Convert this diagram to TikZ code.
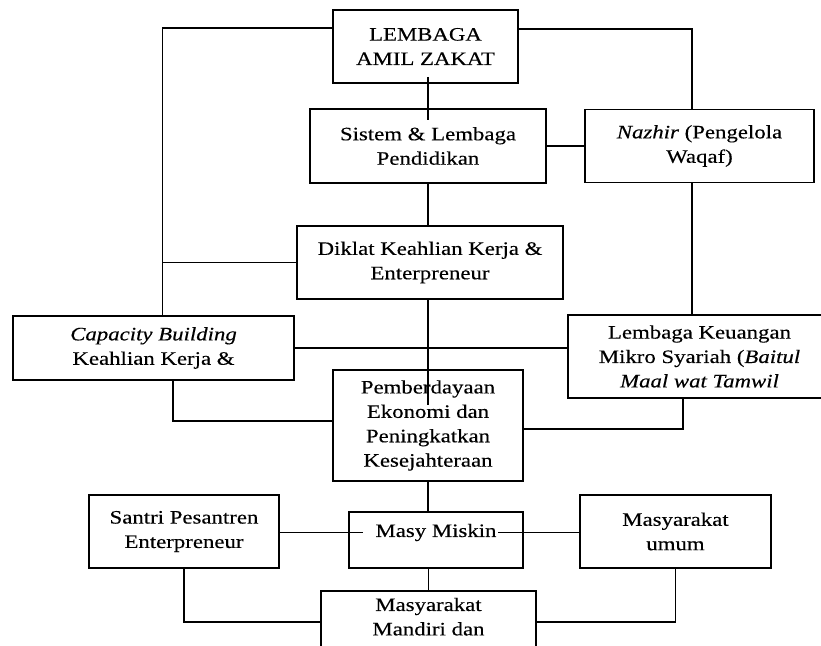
\documentclass[tikz,border=0pt]{standalone}
\usepackage{fontspec}
\setmainfont{Liberation Serif}[FakeStretch=1.2, FakeBold=0.3]
\usepackage{tikz}
\usetikzlibrary{positioning}
\tikzstyle{flow edge}=[line width=0.7pt]
\tikzstyle{flow box}=[draw, line width=0.7pt, align=center, inner sep=3pt, outer sep=0pt, font=\fontsize{9.5}{12.2}\selectfont]
\newcommand{\flownode}[3][]{
  \node [flow box, #1] (#2) {#3}
}

\begin{document}
\begin{tikzpicture}
        \useasboundingbox (0,0) rectangle (410.5pt,-323pt);
        \flownode[at={(212.75pt,-23.25pt)}, minimum width=92.5pt, minimum height=36.5pt]{zakat}{LEMBAGA\\AMIL ZAKAT};
        \flownode[below=13pt of zakat, xshift=1.25pt, minimum width=118pt, minimum height=37pt]{sistem}{Sistem \& Lembaga\\Pendidikan};
        \flownode[right=19.5pt of sistem, minimum width=114.5pt, minimum height=36.5pt]{nazhir}{\textit{Nazhir} (Pengelola\\Waqaf)};
        \flownode[below=21.5pt of sistem, xshift=1pt, minimum width=133pt, minimum height=36.5pt]{diklat}{Diklat Keahlian Kerja \&\\Enterpreneur};
                \flownode[below left=8.5pt and 1.5pt of diklat, minimum width=140.5pt, minimum height=32pt]{capacity}{\textit{Capacity Building}\\Keahlian Kerja \&};
                \flownode[below right=8pt and 2.5pt of diklat, minimum width=131.5pt, minimum height=41.5pt]{lkms}{Lembaga Keuangan\\Mikro Syariah (\textit{Baitul}\\\textit{Maal wat Tamwil}};
        \flownode[below=35.5pt of diklat, xshift=-1pt, minimum width=95pt, minimum height=55.5pt]{berdaya}{Pemberdayaan\\Ekonomi dan\\Peningkatkan\\Kesejahteraan};
        \flownode[below=15.5pt of berdaya, xshift=4pt, minimum width=87pt, inner ysep=0pt]{miskin}{\raisebox{0pt}[12.5pt][15.5pt]{Masy Miskin}};
                \flownode[left=35pt of miskin, yshift=4.25pt, minimum width=95pt, minimum height=36.5pt]{santri}{Santri Pesantren\\Enterpreneur};
                \flownode[right=28.5pt of miskin, yshift=4.25pt, minimum width=95.5pt, minimum height=36.5pt]{umum}{Masyarakat\\umum};
        \flownode[below=11.5pt of miskin, xshift=-3.75pt, minimum width=107.5pt, inner ysep=0pt]{mandiri}{\raisebox{0pt}[10pt][30pt]{\begin{tabular}[t]{@{}c@{}}Masyarakat\\Mandiri dan\end{tabular}}};

        \coordinate (cap-in) at ([xshift=4.5pt]capacity.north);
        \coordinate (naz-out) at ([xshift=-3.75pt]nazhir.south);
        \coordinate (miskin-in) at ([xshift=7pt]miskin.mid west);
        \coordinate (miskin-out) at ([xshift=-12.5pt]miskin.mid east);

                    \draw[flow edge] ([yshift=9.25pt]zakat.west) -| (cap-in);
                    \draw[flow edge] (diklat.west) -- (diklat.west -| cap-in);
                    \draw[flow edge] ([yshift=8.75pt]zakat.east) -| ([xshift=-3.75pt]nazhir.north);
                    \draw[flow edge] ([shift={(1.25pt,3pt)}]zakat.south) -- ([yshift=-5.5pt]sistem.north);

            \draw[flow edge] (sistem.east) -- (sistem.east -| nazhir.west);
            \draw[flow edge] (sistem.south) -- (sistem.south |- diklat.north);
            \draw[flow edge] (naz-out) -- (naz-out |- lkms.north);
            \draw[flow edge] (diklat.south -| berdaya.center) -- ([yshift=10.25pt]berdaya.center);
            \draw[flow edge] (capacity.east) -- (capacity.east -| lkms.west);
            \draw[flow edge] ([xshift=9.75pt]capacity.south) |- ([yshift=2.25pt]berdaya.west);
            \draw[flow edge] ([xshift=-8.25pt]lkms.south) |- ([yshift=-1.75pt]berdaya.east);

            \draw[flow edge] (berdaya.south) -- (berdaya.south |- miskin.north);
            \draw[flow edge] (miskin-in -| santri.east) -- (miskin-in);
            \draw[flow edge] (miskin-out) -- (miskin-out -| umum.west);
            \draw[flow edge] (miskin.south -| mandiri.north) -- (mandiri.north);
            \draw[flow edge] (santri.south) |- ([yshift=-15.5pt]mandiri.north west);
            \draw[flow edge] (umum.south) |- ([yshift=-15.5pt]mandiri.north east);
        \end{tikzpicture}
\end{document}
